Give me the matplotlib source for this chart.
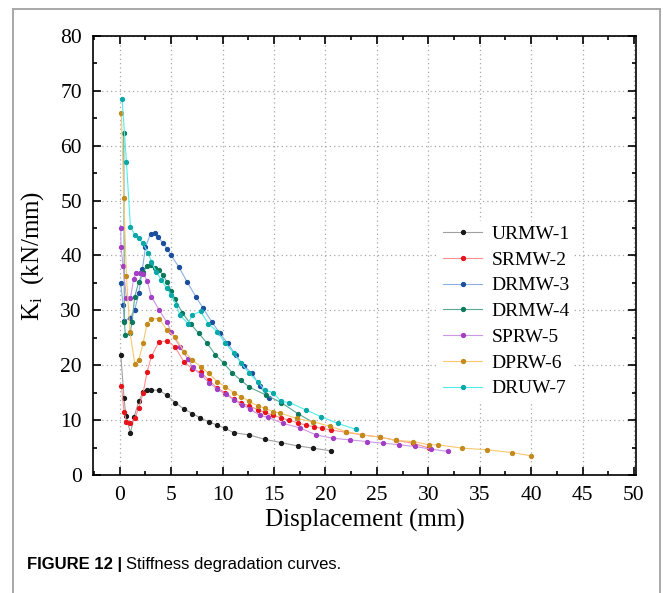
import matplotlib
matplotlib.use("Agg")
import matplotlib.pyplot as plt
from matplotlib.lines import Line2D
from matplotlib.ticker import MultipleLocator

urmw1_x = [0.1, 0.42, 0.6, 1.04, 1.4, 1.85, 2.27, 2.66, 3.08, 3.8, 4.6, 5.4, 6.2, 7.05, 7.85,
           8.65, 9.45, 10.25, 11.1, 12.6, 14.1, 15.7, 17.3, 18.8, 20.5]
urmw1_y = [21.9, 14.0, 10.7, 7.7, 10.6, 13.4, 15.1, 15.4, 15.4, 15.5, 14.5, 13.2, 12.1, 11.2, 10.4,
           9.7, 9.1, 8.5, 7.7, 7.3, 6.5, 5.9, 5.3, 4.9, 4.4]

srmw2_x = [0.16, 0.42, 0.65, 1.04, 1.46, 1.85, 2.27, 2.66, 3.08, 3.82, 4.6, 5.35, 6.25, 7.06, 7.87,
           8.68, 9.49, 10.27, 11.08, 11.8, 12.6, 13.4, 14.1, 14.9, 15.7, 16.5, 17.3, 18.1, 18.9,
           19.7, 20.5, 22.0, 23.6, 25.3, 26.9, 28.5, 30.1]
srmw2_y = [16.3, 11.5, 9.7, 9.4, 10.3, 12.2, 14.9, 18.8, 21.6, 24.3, 24.4, 23.4, 20.6, 19.4, 18.7,
           17.3, 15.8, 15.0, 13.8, 13.1, 12.6, 11.9, 11.4, 10.9, 10.4, 10.0, 9.5, 9.1, 8.8,
           8.5, 8.2, 7.8, 7.3, 6.9, 6.3, 5.8, 4.9]

drmw3_x = [0.1, 0.33, 0.45, 1.0, 1.46, 1.85, 2.2, 2.5, 3.0, 3.4, 3.75, 4.2, 4.6, 5.0, 5.75, 6.55,
           7.4, 8.1, 8.95, 9.75, 10.5, 11.3, 12.1, 12.9, 13.6, 14.5]
drmw3_y = [34.9, 31.0, 28.0, 28.7, 30.1, 33.1, 37.5, 41.5, 44.0, 44.1, 43.3, 42.3, 41.2, 40.0, 37.9, 35.2,
           32.5, 30.4, 27.9, 25.8, 24.0, 21.8, 19.8, 18.5, 16.2, 14.0]

drmw4_x = [0.39, 0.45, 0.55, 1.0, 1.2, 1.46, 1.85, 2.27, 2.66, 3.08, 3.47, 3.82, 4.2, 4.6, 5.0, 5.35,
           6.1, 6.9, 7.7, 8.5, 9.3, 10.1, 10.95, 11.76, 12.6, 14.2, 15.7, 17.3, 18.8]
drmw4_y = [62.4, 27.9, 25.5, 25.8, 27.9, 32.5, 35.2, 37.0, 38.0, 38.3, 37.7, 37.4, 36.4, 35.2, 33.6, 32.1,
           29.5, 27.5, 25.8, 24.0, 21.9, 20.4, 18.6, 17.3, 16.0, 14.6, 13.2, 11.2, 9.6]

sprw5_x = [0.1, 0.12, 0.33, 0.65, 1.04, 1.36, 1.6, 1.95, 2.3, 2.66, 3.08, 3.82, 4.6, 5.0, 5.83, 6.64,
           7.1, 7.9, 8.7, 9.5, 10.3, 11.1, 11.9, 12.7, 13.6, 14.4, 15.9, 17.5, 19.1, 20.7, 22.4,
           24.0, 25.6, 27.2, 28.7, 30.3, 31.9]
sprw5_y = [45.1, 41.6, 38.0, 32.2, 32.2, 35.8, 36.9, 36.9, 36.7, 35.4, 32.5, 30.1, 27.8, 26.1, 23.4, 21.1,
           19.6, 18.2, 16.8, 15.6, 14.7, 13.7, 12.8, 12.0, 10.9, 10.5, 9.4, 8.6, 7.3, 6.7, 6.4,
           6.1, 5.8, 5.5, 5.2, 4.7, 4.3]

dprw6_x = [0.16, 0.4, 0.65, 1.0, 1.46, 1.85, 2.27, 2.66, 3.08, 3.82, 4.6, 5.35, 6.25, 7.06, 7.87,
           8.68, 9.49, 10.27, 11.08, 11.8, 12.6, 13.4, 14.1, 14.9, 15.6, 17.2, 18.8, 20.4, 22.0,
           23.6, 25.3, 26.9, 28.5, 30.1, 30.9, 33.3, 35.7, 38.1, 40.0]
dprw6_y = [65.9, 50.4, 36.2, 26.0, 20.3, 21.0, 24.0, 27.6, 28.5, 28.5, 26.4, 25.2, 22.5, 21.0, 19.7,
           18.5, 17.0, 16.1, 15.0, 14.3, 13.4, 12.6, 12.2, 11.5, 11.3, 10.3, 9.7, 8.9, 7.9,
           7.3, 6.9, 6.3, 6.1, 5.5, 5.5, 4.9, 4.6, 4.1, 3.5]

druw7_x = [0.23, 0.65, 1.04, 1.46, 1.85, 2.27, 2.75, 3.08, 3.56, 4.05, 4.6, 5.0, 5.5, 5.83, 6.64,
           7.06, 7.87, 8.6, 9.5, 10.27, 11.1, 11.8, 12.6, 13.4, 14.1, 14.9, 15.7, 16.5, 18.1,
           19.6, 21.2, 23.0]
druw7_y = [68.5, 57.1, 45.2, 43.8, 43.1, 42.2, 40.5, 38.9, 37.0, 35.5, 34.0, 32.8, 31.0, 29.2, 27.6,
           29.2, 29.8, 27.6, 26.1, 24.0, 22.2, 20.4, 18.5, 17.0, 15.5, 15.0, 13.4, 13.2, 11.85,
           10.6, 9.4, 8.3]

labels = ["URMW-1", "SRMW-2", "DRMW-3", "DRMW-4", "SPRW-5", "DPRW-6", "DRUW-7"]
xs = [urmw1_x, srmw2_x, drmw3_x, drmw4_x, sprw5_x, dprw6_x, druw7_x]
ys = [urmw1_y, srmw2_y, drmw3_y, drmw4_y, sprw5_y, dprw6_y, druw7_y]
marker_colors = ["#1a1a1a", "#e8141c", "#1c4e9e", "#0b7a5c", "#a23fc4", "#c48a1c", "#0aa8a8"]
line_colors = ["#a0a0a0", "#ff9090", "#8ab0e4", "#5aa894", "#cc98e6", "#f7c870", "#50ecec"]

plt.rcParams["font.family"] = ["Liberation Serif", "DejaVu Serif"]
plt.rcParams["mathtext.fontset"] = "custom"
plt.rcParams["mathtext.rm"] = "Liberation Serif"
plt.rcParams["mathtext.it"] = "Liberation Serif:italic"

fig = plt.figure(figsize=(6.63, 5.93), dpi=100)
ax = fig.add_axes([93 / 663, 1 - 475 / 593, (636 - 93) / 663, (475 - 36) / 593])

for x, y, lab, mc, lc in zip(xs, ys, labels, marker_colors, line_colors):
    ax.plot(x, y, "-", color=lc, lw=0.8, marker="o", ms=2.8,
            mfc=mc, mec=mc, label=lab)

ax.set_xlim(-2.6, 50.2)
ax.set_ylim(0, 80)
ax.xaxis.set_major_locator(MultipleLocator(5))
ax.xaxis.set_minor_locator(MultipleLocator(2.5))
ax.yaxis.set_major_locator(MultipleLocator(10))
ax.yaxis.set_minor_locator(MultipleLocator(5))
ax.tick_params(which="both", direction="in", top=True, right=True, width=1.2,
               labelsize=15.5, pad=8)
ax.tick_params(which="major", length=6)
ax.tick_params(which="minor", length=3)
for s in ax.spines.values():
    s.set_linewidth(1.2)
ax.grid(True, which="major", color="#a8a8a8", lw=0.9, ls=(0, (1, 2.5)))
ax.set_axisbelow(True)

ax.set_xlabel("Displacement (mm)", fontsize=18, labelpad=3)
ax.set_ylabel(r"K$_\mathrm{i}$  (kN/mm)", fontsize=18, labelpad=10)

leg = ax.legend(loc="upper left", bbox_to_anchor=(0.62, 0.60), frameon=True,
                fontsize=14, handlelength=2.0, handletextpad=0.5,
                labelspacing=0.42, borderpad=0.2)
leg.get_frame().set_edgecolor("none")
leg.get_frame().set_facecolor("white")
leg.get_frame().set_alpha(1)

# outer journal frame
frame_c = "#a8a8a8"
fig.add_artist(Line2D([13 / 663, 13 / 663], [0, 1 - 9 / 593], color=frame_c, lw=1.4,
                      transform=fig.transFigure))
fig.add_artist(Line2D([13 / 663, 660 / 663], [1 - 9 / 593, 1 - 9 / 593], color=frame_c, lw=1.4,
                      transform=fig.transFigure))
fig.add_artist(Line2D([660 / 663, 660 / 663], [0, 1 - 9 / 593], color=frame_c, lw=1.4,
                      transform=fig.transFigure))

cap = fig.text(27 / 663, 1 - 565 / 593, "FIGURE 12 |", fontsize=12, fontweight="bold",
               family=["Liberation Sans", "DejaVu Sans"], va="center", ha="left")
fig.canvas.draw()
bb = cap.get_window_extent()
fig.text(bb.x1 / fig.bbox.width + 0.006, 1 - 565 / 593, "Stiffness degradation curves.",
         fontsize=12, family=["Liberation Sans", "DejaVu Sans"], va="center", ha="left")

fig.savefig("out.png", dpi=100)
